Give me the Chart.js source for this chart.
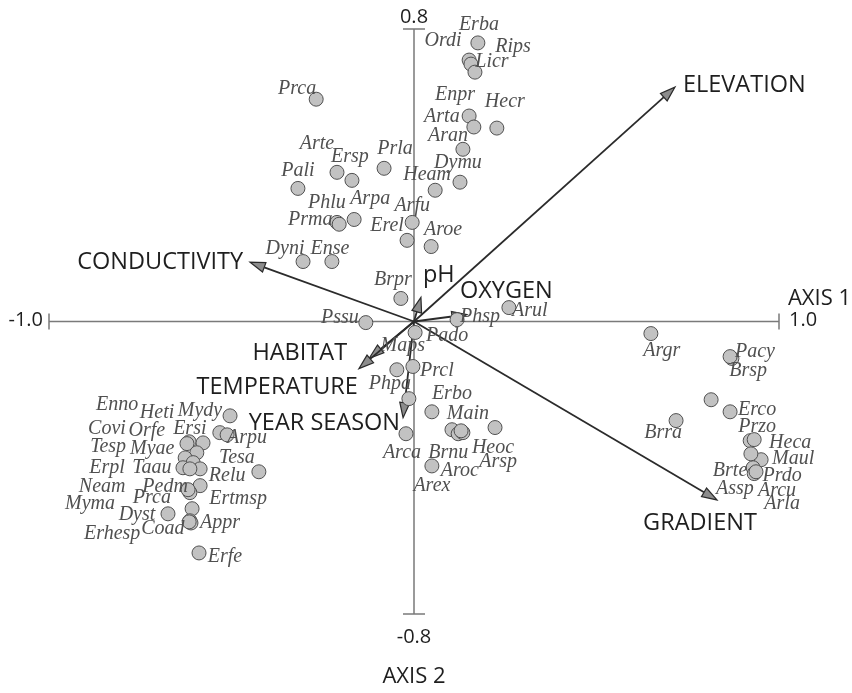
<!DOCTYPE html>
<html>
<head>
<meta charset="utf-8">
<script src="https://cdn.jsdelivr.net/npm/chart.js@4.4.1/dist/chart.umd.min.js"></script>
<style>
    html, body { margin: 0; padding: 0; background: #ffffff; }
    #wrap { width: 852px; height: 693px; position: relative; }
</style>
</head>
<body>
<div id="wrap"><canvas id="cca-chart"></canvas></div>
<script>
// Species scores (axis 1, axis 2)
const speciesNames = [
    'Erba', 'Ordi', 'Rips', 'Licr', 'Prca', 'Enpr', 'Arta', 'Hecr', 'Aran', 'Dymu',
    'Heam', 'Prla', 'Arte', 'Ersp', 'Pali', 'Phlu', 'Prma', 'Arpa', 'Arfu', 'Erel',
    'Aroe', 'Dyni', 'Ense', 'Brpr', 'Pssu', 'Phsp', 'Arul', 'Pado', 'Maps', 'Prcl',
    'Phpa', 'Erbo', 'Main', 'Brnu', 'Aroc', 'Heoc', 'Arsp', 'Arca', 'Arex',
    'Mydy', 'Ersi', 'Arpu', 'Enno', 'Heti', 'Covi', 'Orfe', 'Tesp', 'Myae', 'Tesa',
    'Relu', 'Erpl', 'Taau', 'Neam', 'Pedm', 'Prca', 'Myma', 'Ertmsp', 'Dyst', 'Coad',
    'Appr', 'Erhesp', 'Erfe',
    'Argr', 'Pacy', 'Brsp', 'Erco', 'Przo', 'Brra', 'Heca', 'Maul', 'Brte', 'Prdo',
    'Assp', 'Arcu', 'Arla'
];
const speciesX = [
    0.175, 0.151, 0.156, 0.167, -0.268, 0.151, 0.164, 0.227, 0.134, 0.126,
    0.058, -0.082, -0.211, -0.170, -0.318, -0.211, -0.205, -0.164, -0.005, -0.019,
    0.047, -0.304, -0.225, -0.036, -0.132, 0.118, 0.260, 0.003, -0.047, -0.003,
    -0.014, 0.049, 0.104, 0.121, 0.134, 0.222, 0.129, -0.022, 0.049,
    -0.504, -0.532, -0.512, -0.616, -0.578, -0.622, -0.595, -0.627, -0.605, -0.425,
    -0.586, -0.633, -0.614, -0.616, -0.586, -0.614, -0.619, -0.608, -0.674, -0.614,
    -0.611, -0.616, -0.589,
    0.649, 0.871, 0.866, 0.866, 0.921, 0.718, 0.932, 0.951, 0.929, 0.932,
    0.923, 0.937, 0.814
];
const speciesY = [
    0.762, 0.715, 0.704, 0.682, 0.608, 0.562, 0.532, 0.529, 0.471, 0.381,
    0.359, 0.419, 0.408, 0.386, 0.364, 0.271, 0.266, 0.279, 0.271, 0.222,
    0.205, 0.164, 0.164, 0.063, -0.003, 0.005, 0.038, -0.030, -0.132, -0.123,
    -0.211, -0.247, -0.296, -0.307, -0.304, -0.290, -0.299, -0.307, -0.395,
    -0.258, -0.304, -0.310, -0.329, -0.332, -0.334, -0.359, -0.373, -0.386, -0.411,
    -0.403, -0.400, -0.403, -0.463, -0.449, -0.468, -0.460, -0.512, -0.526, -0.545,
    -0.551, -0.548, -0.633,
    -0.033, -0.101, -0.096, -0.247, -0.326, -0.271, -0.323, -0.378, -0.400, -0.416,
    -0.362, -0.411, -0.214
];

// Environmental variables (biplot arrows)
const envNames = ['ELEVATION', 'CONDUCTIVITY', 'GRADIENT', 'pH', 'OXYGEN', 'HABITAT', 'TEMPERATURE', 'YEAR SEASON'];
const envX = [0.715, -0.449, 0.830, 0.019, 0.145, -0.123, -0.151, -0.030];
const envY = [0.641, 0.162, -0.488, 0.066, 0.019, -0.101, -0.129, -0.263];

// Axis ends and titles
const axis1Ticks = [-1.0, 1.0];
const axis2Ticks = [-0.8, 0.8];
const axis1Title = 'AXIS 1';
const axis2Title = 'AXIS 2';

/**
 * Layout only: pixel offsets from each point to the middle of its label
 */
const speciesLabelOffset = [
    [1, -18], [-26, -19], [42, -17], [17, -10], [-19, -10], [-14, -21], [-32, -10], [8, -26], [-15, -14], [-2, -19],
    [-8, -15], [11, -20], [-20, -29], [-2, -24], [0, -18], [-10, -20], [-29, -4], [16, -21], [0, -17], [-20, -15],
    [12, -17], [-18, -13], [-2, -13], [-8, -19], [-26, -5], [23, -3], [21, 3], [32, 3], [6, -24], [24, 4],
    [-19, -15], [20, -18], [16, -16], [-10, 19], [-3, 38], [-2, 20], [37, 31], [-4, 19], [0, 20],
    [-30, -5], [-30, -4], [20, 3], [-72, -37], [-46, -30], [-80, -15], [-50, -22], [-77, -11], [-41, -14], [-22, -14],
    [27, 7], [-76, 0], [-38, -1], [-87, -4], [-35, 1], [-38, 5], [-98, 14], [46, -10], [-31, 1], [-27, 8],
    [29, 0], [-77, 12], [26, 4],
    [11, 17], [23, -7], [18, 14], [27, -2], [7, -14], [-13, 12], [36, 3], [32, -1], [-23, 3], [28, 2],
    [-16, 35], [21, 19], [71, 104]
];

const envLabelStyle = [
    { dx: 8, dy: -2, align: 'left' },
    { dx: -7, dy: 0, align: 'right' },
    { dx: -17, dy: 23, align: 'center' },
    { dx: 2, dy: -22, align: 'left' },
    { dx: -7, dy: -23, align: 'left' },
    { dx: -22, dy: -5, align: 'right' },
    { dx: -1, dy: 19, align: 'right' },
    { dx: -3, dy: 6, align: 'right' }
];

const SANS = '"Open Sans", "Noto Sans", sans-serif';
const SERIF = '"Liberation Serif", "DejaVu Serif", serif';

/**
 * Draws the two axes, the arrows and every text of the biplot
 */
const biplotPlugin = {
    id: 'biplot',
    beforeDatasetsDraw(chart) {
        const ctx = chart.ctx;
        const sx = chart.scales.x;
        const sy = chart.scales.y;
        const x0 = sx.getPixelForValue(0);
        const y0 = sy.getPixelForValue(0);
        const xl = sx.getPixelForValue(axis1Ticks[0]);
        const xr = sx.getPixelForValue(axis1Ticks[1]);
        const yt = sy.getPixelForValue(axis2Ticks[1]);
        const yb = sy.getPixelForValue(axis2Ticks[0]);

        ctx.save();
        ctx.strokeStyle = '#7a7a7a';
        ctx.lineWidth = 1.5;
        ctx.beginPath();
        ctx.moveTo(xl, y0); ctx.lineTo(xr, y0);
        ctx.moveTo(x0, yt); ctx.lineTo(x0, yb);
        // end bars
        ctx.moveTo(xl, y0 - 8); ctx.lineTo(xl, y0 + 8);
        ctx.moveTo(xr, y0 - 8); ctx.lineTo(xr, y0 + 8);
        ctx.moveTo(x0 - 11, yt); ctx.lineTo(x0 + 11, yt);
        ctx.moveTo(x0 - 11, yb); ctx.lineTo(x0 + 11, yb);
        ctx.stroke();

        // arrows of the environmental variables
        envNames.forEach((name, i) => {
            const tx = sx.getPixelForValue(envX[i]);
            const ty = sy.getPixelForValue(envY[i]);
            const ang = Math.atan2(ty - y0, tx - x0);
            const len = 15;
            const half = 5;
            const bx = tx - len * Math.cos(ang);
            const by = ty - len * Math.sin(ang);
            ctx.strokeStyle = '#2b2b2b';
            ctx.lineWidth = 1.8;
            ctx.beginPath();
            ctx.moveTo(x0, y0);
            ctx.lineTo(bx, by);
            ctx.stroke();
            ctx.beginPath();
            ctx.moveTo(tx, ty);
            ctx.lineTo(bx + half * Math.sin(ang), by - half * Math.cos(ang));
            ctx.lineTo(bx - half * Math.sin(ang), by + half * Math.cos(ang));
            ctx.closePath();
            ctx.fillStyle = '#8c8c8c';
            ctx.fill();
            ctx.lineWidth = 1.2;
            ctx.stroke();
        });
        ctx.restore();
    },
    afterDatasetsDraw(chart) {
        const ctx = chart.ctx;
        const sx = chart.scales.x;
        const sy = chart.scales.y;
        const x0 = sx.getPixelForValue(0);
        const y0 = sy.getPixelForValue(0);

        ctx.save();
        // species labels
        ctx.font = 'italic 20px ' + SERIF;
        ctx.fillStyle = '#505050';
        ctx.textAlign = 'center';
        ctx.textBaseline = 'middle';
        speciesNames.forEach((name, i) => {
            const px = sx.getPixelForValue(speciesX[i]);
            const py = sy.getPixelForValue(speciesY[i]);
            const off = speciesLabelOffset[i];
            ctx.fillText(name, px + off[0], py + off[1]);
        });

        // variable labels
        ctx.font = '23.5px ' + SANS;
        ctx.fillStyle = '#1e1e1e';
        envNames.forEach((name, i) => {
            const st = envLabelStyle[i];
            ctx.textAlign = st.align;
            ctx.fillText(name, sx.getPixelForValue(envX[i]) + st.dx, sy.getPixelForValue(envY[i]) + st.dy);
        });

        // tick labels
        ctx.font = '20px ' + SANS;
        ctx.textAlign = 'right';
        ctx.fillText(axis1Ticks[0].toFixed(1), sx.getPixelForValue(axis1Ticks[0]) - 6, y0 - 1);
        ctx.textAlign = 'left';
        ctx.fillText(axis1Ticks[1].toFixed(1), sx.getPixelForValue(axis1Ticks[1]) + 10, y0 - 1);
        ctx.textAlign = 'center';
        ctx.fillText(axis2Ticks[1].toFixed(1), x0, sy.getPixelForValue(axis2Ticks[1]) - 12);
        ctx.fillText(axis2Ticks[0].toFixed(1), x0, sy.getPixelForValue(axis2Ticks[0]) + 23);

        // axis titles
        ctx.font = '22px ' + SANS;
        ctx.fillText(axis2Title, x0, sy.getPixelForValue(axis2Ticks[0]) + 63);
        ctx.textAlign = 'right';
        ctx.fillText(axis1Title, chart.width - 1, y0 - 23);
        ctx.restore();
    }
};

class BiplotChart {
    constructor() {
        this.canvas = document.getElementById('cca-chart');
        this.chart = null;
    }

    render() {
        const points = speciesNames.map((n, i) => ({ x: speciesX[i], y: speciesY[i] }));

        this.chart = new Chart(this.canvas.getContext('2d'), {
            type: 'scatter',
            data: {
                datasets: [{
                    label: 'Species',
                    data: points,
                    pointRadius: 7,
                    pointHoverRadius: 7,
                    backgroundColor: '#c2c2c2',
                    borderColor: '#505050',
                    borderWidth: 1,
                    clip: false
                }]
            },
            options: {
                responsive: true,
                maintainAspectRatio: false,
                animation: false,
                events: [],
                layout: { padding: { left: 49, right: 73, top: 29, bottom: 79 } },
                scales: {
                    x: { type: 'linear', min: -1, max: 1, display: false },
                    y: { type: 'linear', min: -0.8, max: 0.8, display: false }
                },
                plugins: {
                    legend: { display: false },
                    tooltip: { enabled: false }
                }
            },
            plugins: [biplotPlugin]
        });
    }
}

new BiplotChart().render();
</script>
</body>
</html>
